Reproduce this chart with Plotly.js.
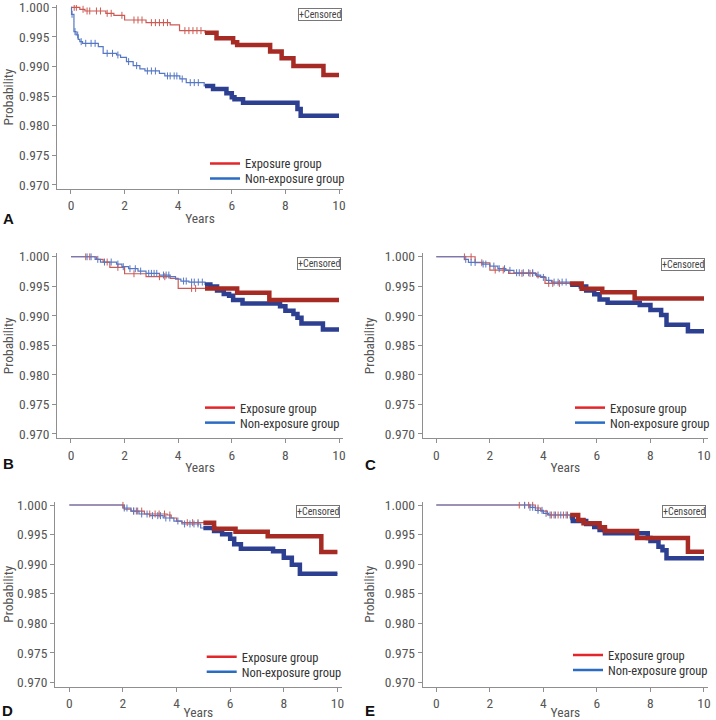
<!DOCTYPE html>
<html>
<head>
<meta charset="utf-8">
<script src="https://cdn.plot.ly/plotly-3.0.1.min.js"></script>
<style>
body{margin:0;background:#fff}
#chart{width:716px;height:720px}
/* the figure uses a condensed face: Roboto is variable, so squeeze it */
svg text[style*="Roboto"]{font-stretch:75%}
</style>
</head>
<body>
<div id="chart"></div>
<script>
// survival steps: time of each drop and survival after it
var aExpT = [0, 0.33, 0.52, 1.3, 1.6, 2.0, 2.8, 3.7, 4.05, 5.0, 5.43, 6.05, 6.2, 7.43, 7.86, 8.3, 9.42, 10];
var aExpS = [1, 0.99966, 0.99938, 0.99899, 0.99865, 0.99786, 0.99741, 0.99702, 0.99606, 0.9957, 0.99477, 0.9941, 0.99364, 0.99252, 0.99139, 0.9901, 0.98858, 0.98858];
var aNonT = [0, 0.02, 0.11, 0.19, 0.27, 0.33, 0.43, 1.02, 1.2, 1.7, 1.85, 2.07, 2.32, 2.57, 2.76, 3.3, 3.5, 4.06, 4.3, 4.97, 5.3, 5.8, 6.0, 6.1, 6.42, 8.45, 8.57, 10];
var aNonS = [1, 0.99882, 0.99589, 0.99533, 0.9946, 0.9942, 0.99392, 0.99336, 0.99223, 0.99195, 0.99156, 0.99083, 0.99015, 0.98959, 0.98925, 0.98886, 0.98841, 0.9879, 0.98728, 0.98672, 0.98621, 0.98548, 0.98481, 0.98447, 0.9839, 0.98284, 0.98171, 0.98171];
var aExpC = [0.12, 0.2, 0.45, 0.6, 0.7, 0.95, 1.1, 1.35, 1.5, 1.9, 2.35, 2.5, 2.65, 3.0, 3.15, 3.3, 3.45, 3.6, 4.25, 4.4, 4.55, 4.7, 4.85];
var aNonC = [0.04, 0.15, 0.25, 0.38, 0.55, 0.75, 0.9, 1.35, 1.55, 1.75, 2.15, 2.45, 2.85, 3.0, 3.15, 3.6, 3.7, 3.85, 3.95, 4.15, 4.45, 4.6, 4.75];

var bExpT = [0, 0.95, 1.2, 1.45, 2.0, 2.8, 3.7, 4.0, 6.2, 7.4, 10];
var bExpS = [1, 0.99955, 0.9991, 0.9982, 0.99712, 0.99662, 0.99633, 0.99464, 0.99391, 0.99267, 0.99267];
var bNonT = [0, 0.9, 1.1, 1.7, 1.9, 2.15, 2.5, 2.8, 3.3, 3.7, 3.9, 4.1, 4.4, 5.0, 5.2, 5.45, 5.7, 5.9, 6.05, 6.4, 7.8, 8.0, 8.3, 8.45, 8.6, 9.4, 10];
var bNonS = [1, 0.99955, 0.9991, 0.99876, 0.99831, 0.99797, 0.99757, 0.99718, 0.9969, 0.99662, 0.99622, 0.99588, 0.99571, 0.99532, 0.99498, 0.9943, 0.99368, 0.9934, 0.99267, 0.9921, 0.9916, 0.99086, 0.9903, 0.98968, 0.98872, 0.9877, 0.9877];
var bExpC = [0.55, 0.7, 1.35, 1.75, 2.35, 3.3, 3.5, 4.5, 4.65];
var bNonC = [0.6, 0.75, 1.0, 1.25, 1.5, 1.75, 1.95, 2.2, 2.4, 2.6, 2.9, 3.0, 3.1, 3.2, 3.45, 3.55, 3.65, 4.2, 4.3, 4.5, 4.6, 4.75, 4.9];

var cExpT = [0, 1.45, 2.0, 2.7, 3.75, 4.06, 5.43, 6.2, 7.41, 10];
var cExpS = [1, 0.99898, 0.99774, 0.99718, 0.99662, 0.99549, 0.99459, 0.99397, 0.99295, 0.99295];
var cNonT = [0, 1.05, 1.2, 1.7, 2.0, 2.3, 2.6, 2.9, 3.7, 3.9, 4.1, 4.3, 5.0, 5.4, 5.6, 5.9, 6.1, 6.4, 7.6, 8.0, 8.4, 8.6, 9.4, 10];
var cNonS = [1, 0.99955, 0.99904, 0.99876, 0.99842, 0.99797, 0.99769, 0.99729, 0.9969, 0.9965, 0.996, 0.99571, 0.99526, 0.99498, 0.9943, 0.99363, 0.99278, 0.99222, 0.99182, 0.99098, 0.99013, 0.98849, 0.98737, 0.98737];
var cExpC = [1.05, 1.3, 1.7, 2.2, 2.5, 3.2, 3.5, 3.6, 4.2, 4.35, 4.6];
var cNonC = [1.1, 1.3, 1.45, 1.75, 1.85, 2.15, 2.35, 2.55, 2.75, 3.0, 3.1, 3.25, 3.45, 3.6, 3.8, 4.0, 4.2, 4.4, 4.55, 4.7, 4.85];

var dExpT = [0, 2.05, 2.3, 2.8, 3.65, 3.8, 4.0, 4.2, 5.4, 6.2, 7.4, 9.4, 10];
var dExpS = [1, 0.99932, 0.99898, 0.99848, 0.99831, 0.9978, 0.99729, 0.99701, 0.996, 0.99549, 0.9947, 0.99205, 0.99205];
var dNonT = [0, 2.0, 2.3, 2.6, 3.0, 3.5, 3.9, 4.2, 4.9, 5.4, 5.7, 6.0, 6.15, 6.4, 7.6, 8.0, 8.3, 8.6, 10];
var dNonS = [1, 0.99949, 0.99898, 0.99848, 0.9982, 0.9978, 0.99729, 0.99679, 0.99611, 0.9956, 0.99504, 0.9943, 0.99334, 0.99261, 0.99216, 0.99109, 0.9899, 0.98838, 0.98838];
var dExpC = [2.0, 2.4, 2.55, 2.7, 3.0, 3.2, 3.35, 3.55, 3.75, 4.4, 4.6, 4.8];
var dNonC = [2.05, 2.15, 2.4, 2.5, 2.7, 2.9, 3.1, 3.3, 3.4, 3.6, 3.75, 4.05, 4.3, 4.5, 4.65, 4.8];

var eExpT = [0, 3.7, 3.9, 4.15, 5.3, 5.5, 6.1, 6.3, 7.5, 9.4, 10];
var eExpS = [1, 0.99949, 0.99898, 0.99831, 0.99746, 0.9969, 0.99622, 0.9956, 0.99442, 0.9921, 0.9921];
var eNonT = [0, 3.5, 3.7, 4.0, 4.2, 5.0, 5.1, 5.6, 5.9, 6.1, 6.3, 7.9, 8.0, 8.3, 8.45, 8.6, 10];
var eNonS = [1, 0.99961, 0.9991, 0.99859, 0.99831, 0.9978, 0.99729, 0.99679, 0.99628, 0.99577, 0.99521, 0.99442, 0.99391, 0.99295, 0.99233, 0.99098, 0.99098];
var eExpC = [3.1, 3.3, 3.45, 3.6, 3.8, 4.3, 4.4, 4.55, 4.75, 4.9];
var eNonC = [3.3, 3.5, 3.6, 3.8, 3.95, 4.1, 4.25, 4.45, 4.65, 4.85];

// heavy censoring after this year makes the curve look like a thick band
var denseFrom = 5.0;

var panelLetters = ['A', 'B', 'C', 'D', 'E'];
var groupNames = ['Exposure group', 'Non-exposure group'];
var xTickVals = [0, 2, 4, 6, 8, 10];
var xTickText = ['0', '2', '4', '6', '8', '10'];
var yTickVals = [0.970, 0.975, 0.980, 0.985, 0.990, 0.995, 1.000];
var yTickText = ['0.970', '0.975', '0.980', '0.985', '0.990', '0.995', '1.000'];

var W = 716, H = 720;
var font = 'Roboto, sans-serif';

// pixel boxes of each panel (left, right, top, bottom), axis ranges,
// censored box centre, legend left + row centres, panel letter
var boxes = [
  {l: 57, r: 343, t: 5, b: 189, xr: [-0.522, 10.149], yr: [0.96932, 1.00039], cx: 320, cy: 14.3, lx: 205, ly: [163.8, 178.8], px: 8, py: 218},
  {l: 57, r: 343, t: 253.3, b: 438.3, xr: [-0.522, 10.149], yr: [0.96927, 1.00058], cx: 319, cy: 263.5, lx: 200, ly: [408, 423], px: 8, py: 463},
  {l: 422.7, r: 708, t: 253.3, b: 438.3, xr: [-0.508, 10.15], yr: [0.96927, 1.00058], cx: 683, cy: 264, lx: 570, ly: [408, 423], px: 370, py: 464},
  {l: 55, r: 341.7, t: 501.7, b: 686.7, xr: [-0.534, 10.16], yr: [0.96926, 1.00056], cx: 317.5, cy: 511.5, lx: 201.7, ly: [657.2, 672.2], px: 7, py: 710},
  {l: 422.7, r: 708, t: 501.7, b: 686.7, xr: [-0.508, 10.15], yr: [0.96926, 1.00056], cx: 683.5, cy: 511.5, lx: 568, ly: [655.3, 670.3], px: 370, py: 710}
];

var curves = [
  [aExpT, aExpS, aExpC, aNonT, aNonS, aNonC],
  [bExpT, bExpS, bExpC, bNonT, bNonS, bNonC],
  [cExpT, cExpS, cExpC, cNonT, cNonS, cNonC],
  [dExpT, dExpS, dExpC, dNonT, dNonS, dNonC],
  [eExpT, eExpS, eExpC, eNonT, eNonS, eNonC]
];

var thinCol = ['#cd5a52', '#5677c4'];
var thickCol = ['#a62b24', '#2c3f91'];
var legendCol = ['#e3262b', '#2a6cc4'];

function survAt(T, S, t) {
  var v = S[0];
  for (var i = 0; i < T.length; i++) if (T[i] <= t) v = S[i];
  return v;
}

var data = [];
var layout = {
  width: W, height: H,
  margin: {l: 0, r: 0, t: 0, b: 0, autoexpand: false},
  paper_bgcolor: '#fff', plot_bgcolor: '#fff',
  showlegend: true,
  annotations: []
};

boxes.forEach(function (bx, i) {
  var n = i === 0 ? '' : String(i + 1);
  var xa = 'x' + n, ya = 'y' + n;
  var c = curves[i];
  var sets = [[c[0], c[1], c[2]], [c[3], c[4], c[5]]];

  // thin step lines
  sets.forEach(function (s, g) {
    data.push({x: s[0], y: s[1], xaxis: xa, yaxis: ya, mode: 'lines', line: {shape: 'hv', color: thinCol[g], width: 1.2}, showlegend: false, hoverinfo: 'skip'});
  });
  // censor marks
  sets.forEach(function (s, g) {
    data.push({x: s[2], y: s[2].map(function (t) { return survAt(s[0], s[1], t); }), xaxis: xa, yaxis: ya, mode: 'markers',
      marker: {symbol: 'line-ns', size: 5, line: {color: thinCol[g], width: 1}}, showlegend: false, hoverinfo: 'skip'});
  });
  // thick band for heavily censored period
  [1, 0].forEach(function (g) {
    var s = sets[g];
    var xs = [denseFrom], ys = [survAt(s[0], s[1], denseFrom)];
    for (var k = 0; k < s[0].length; k++) if (s[0][k] > denseFrom) { xs.push(s[0][k]); ys.push(s[1][k]); }
    data.push({x: xs, y: ys, xaxis: xa, yaxis: ya, mode: 'lines', line: {shape: 'hv', color: thickCol[g], width: 4.5}, showlegend: false, hoverinfo: 'skip'});
  });
  // legend entries, one small legend per row so the rows sit close together
  groupNames.forEach(function (nm, g) {
    var k = i * 2 + g + 1;
    var lg = k === 1 ? 'legend' : 'legend' + k;
    data.push({x: [null], y: [null], xaxis: xa, yaxis: ya, mode: 'lines', name: nm, legend: lg, line: {color: legendCol[g], width: 2.5}});
    layout[lg] = {
      x: bx.lx / W, y: 1 - bx.ly[g] / H, xanchor: 'left', yanchor: 'middle',
      bgcolor: 'rgba(0,0,0,0)', borderwidth: 0,
      font: {family: font, size: 12.5, color: '#333'}
    };
  });

  layout['xaxis' + n] = {
    domain: [bx.l / W, bx.r / W], range: bx.xr, anchor: ya,
    showline: true, linecolor: '#8f8f8f', linewidth: 1, mirror: false,
    ticks: 'outside', ticklen: 4, tickcolor: '#8f8f8f',
    tickvals: xTickVals, ticktext: xTickText,
    tickfont: {family: font, size: 13.5, color: '#555'},
    showgrid: false, zeroline: false, fixedrange: true,
    title: {text: 'Years', font: {family: font, size: 13.5, color: '#555'}, standoff: 1}
  };
  layout['yaxis' + n] = {
    domain: [1 - bx.b / H, 1 - bx.t / H], range: bx.yr, anchor: xa,
    showline: true, linecolor: '#8f8f8f', linewidth: 1,
    ticks: 'outside', ticklen: 4, tickcolor: '#8f8f8f',
    tickvals: yTickVals, ticktext: yTickText, ticklabeloverflow: 'allow',
    tickfont: {family: font, size: 13.5, color: '#555'},
    showgrid: false, zeroline: false, fixedrange: true,
    title: {text: 'Probability', font: {family: font, size: 13.5, color: '#555'}, standoff: 7}
  };
  layout.annotations.push({
    xref: 'paper', yref: 'paper', x: bx.cx / W, y: 1 - bx.cy / H, xanchor: 'center', yanchor: 'middle',
    text: '+Censored', showarrow: false, font: {family: font, size: 10, color: '#444'},
    bordercolor: '#777', borderwidth: 1, borderpad: 0, bgcolor: '#fff'
  });
  layout.annotations.push({
    xref: 'paper', yref: 'paper', x: bx.px / W, y: 1 - bx.py / H, xanchor: 'center', yanchor: 'middle',
    text: '<b>' + panelLetters[i] + '</b>', showarrow: false,
    font: {family: 'Liberation Sans, Arial, sans-serif', size: 15, color: '#111'}
  });
});

Plotly.newPlot('chart', data, layout, {staticPlot: true, displayModeBar: false});
</script>
</body>
</html>
